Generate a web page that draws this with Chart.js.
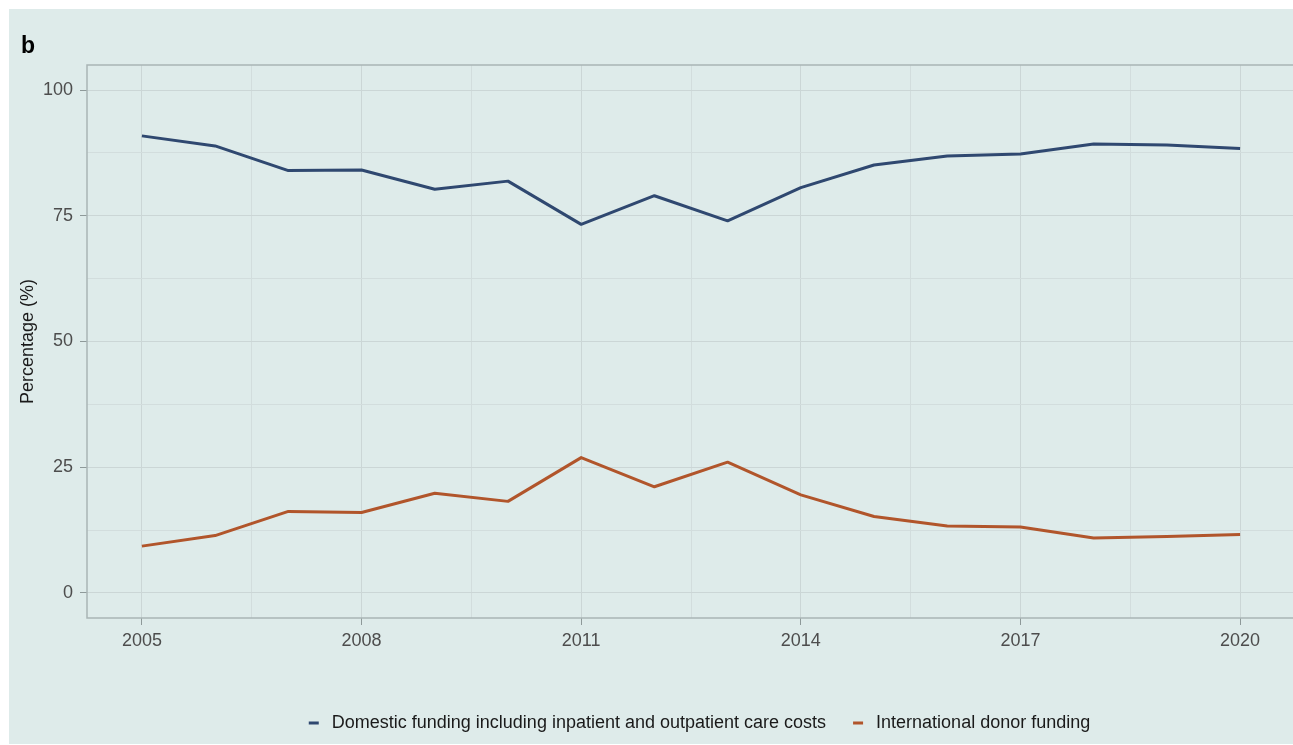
<!DOCTYPE html>
<html>
<head>
<meta charset="utf-8">
<script src="https://cdn.jsdelivr.net/npm/chart.js@4/dist/chart.umd.min.js"></script>
<style>
  html, body { margin: 0; padding: 0; background: #ffffff; overflow: hidden; }
  canvas { display: block; }
</style>
</head>
<body>
<canvas id="c" width="1300" height="745"></canvas>
<script>
// Share of funding by source, 2005–2020
const years = [2005, 2006, 2007, 2008, 2009, 2010, 2011, 2012, 2013, 2014, 2015, 2016, 2017, 2018, 2019, 2020];
const domestic = [90.9, 88.9, 84.0, 84.1, 80.3, 81.9, 73.3, 79.0, 74.0, 80.6, 85.1, 86.9, 87.3, 89.3, 89.1, 88.4];
const donor = [9.3, 11.4, 16.2, 16.0, 19.8, 18.2, 26.9, 21.1, 26.0, 19.5, 15.2, 13.3, 13.1, 10.9, 11.2, 11.6];

const seriesNames = ['Domestic funding including inpatient and outpatient care costs', 'International donor funding'];
const seriesColors = ['#2f4870', '#b1552b'];

const xTicks = [2005, 2008, 2011, 2014, 2017, 2020];
const yTicks = [0, 25, 50, 75, 100];
const panelLetter = 'b';
const yTitle = 'Percentage (%)';

const FONT = '"Liberation Sans", Arial, Helvetica, sans-serif';
const BG = '#deebea';
const GRID_MAJOR = '#cbd6d6';
const GRID_MINOR = '#d2dddd';

// minor breaks sit half-way between the labelled ones
function withMinor(major) {
  const out = [];
  major.forEach((v, i) => {
    out.push(v);
    if (i < major.length - 1) out.push((v + major[i + 1]) / 2);
  });
  return out;
}

const backdrop = {
  id: 'backdrop',
  beforeDraw(chart) {
    const c = chart.ctx;
    c.save();
    c.fillStyle = BG;
    c.fillRect(9, 9, chart.width - 9, 735);
    c.fillStyle = '#000000';
    c.font = 'bold 23px ' + FONT;
    c.textBaseline = 'alphabetic';
    c.fillText(panelLetter, 21, 53);
    c.restore();
  },
  beforeDatasetsDraw(chart) {
    const a = chart.chartArea;
    const c = chart.ctx;
    c.save();
    c.strokeStyle = '#a9b5b5';
    c.lineWidth = 1.5;
    c.strokeRect(a.left, a.top, a.right - a.left, a.bottom - a.top);
    c.restore();
  },
  afterDraw(chart) {
    // legend row under the plot
    const c = chart.ctx;
    c.save();
    c.font = '18px ' + FONT;
    c.textBaseline = 'middle';
    const y = 723;
    const items = chart.data.datasets.map(ds => ({
      label: ds.label, color: ds.borderColor, w: c.measureText(ds.label).width
    }));
    const keyW = 26, gap = 24;
    const total = items.reduce((s, it) => s + keyW + it.w, 0) + gap * (items.length - 1);
    let x = 698 - total / 2;
    items.forEach(it => {
      c.fillStyle = it.color;
      c.fillRect(x + 3, y - 1.5, 10, 3);
      c.fillStyle = '#1a1a1a';
      c.fillText(it.label, x + keyW, y);
      x += keyW + it.w + gap;
    });
    c.restore();
  }
};

new Chart(document.getElementById('c'), {
  type: 'line',
  data: {
    datasets: [
      { label: seriesNames[0], data: years.map((yr, i) => ({ x: yr, y: domestic[i] })),
        borderColor: seriesColors[0], backgroundColor: seriesColors[0] },
      { label: seriesNames[1], data: years.map((yr, i) => ({ x: yr, y: donor[i] })),
        borderColor: seriesColors[1], backgroundColor: seriesColors[1] }
    ]
  },
  options: {
    responsive: false,
    devicePixelRatio: 1,
    animation: false,
    events: [],
    layout: { padding: { top: 65, right: 5, left: 0, bottom: 0 } },
    elements: {
      line: { borderWidth: 3, tension: 0, borderJoinStyle: 'round', borderCapStyle: 'butt' },
      point: { radius: 0, hoverRadius: 0 }
    },
    plugins: {
      legend: { display: false },
      tooltip: { enabled: false },
      title: { display: false }
    },
    scales: {
      x: {
        type: 'linear',
        min: 2004.25,
        max: 2020.75,
        afterBuildTicks(scale) { scale.ticks = withMinor(xTicks).map(v => ({ value: v })); },
        afterFit(scale) { scale.height = 127; },
        border: { display: false },
        grid: {
          color: ctx => xTicks.includes(ctx.tick.value) ? GRID_MAJOR : GRID_MINOR,
          lineWidth: 1,
          drawTicks: true,
          tickLength: 7,
          tickColor: ctx => xTicks.includes(ctx.tick.value) ? '#8e9999' : 'rgba(0,0,0,0)'
        },
        ticks: {
          autoSkip: false,
          maxRotation: 0,
          padding: 5,
          color: '#4d4d4d',
          font: { family: FONT, size: 18 },
          callback: v => xTicks.includes(v) ? String(v) : ''
        }
      },
      y: {
        type: 'linear',
        min: -5,
        max: 105,
        afterBuildTicks(scale) { scale.ticks = withMinor(yTicks).map(v => ({ value: v })); },
        afterFit(scale) { scale.width = 87; },
        border: { display: false },
        grid: {
          color: ctx => yTicks.includes(ctx.tick.value) ? GRID_MAJOR : GRID_MINOR,
          lineWidth: 1,
          drawTicks: true,
          tickLength: 7,
          tickColor: ctx => yTicks.includes(ctx.tick.value) ? '#8e9999' : 'rgba(0,0,0,0)'
        },
        ticks: {
          autoSkip: false,
          padding: 7,
          color: '#4d4d4d',
          font: { family: FONT, size: 18 },
          callback: v => yTicks.includes(v) ? String(v) : ''
        },
        title: {
          display: true,
          text: yTitle,
          color: '#1a1a1a',
          font: { family: FONT, size: 18 },
          padding: { top: 17, bottom: 0 }
        }
      }
    }
  },
  plugins: [backdrop]
});
</script>
</body>
</html>
